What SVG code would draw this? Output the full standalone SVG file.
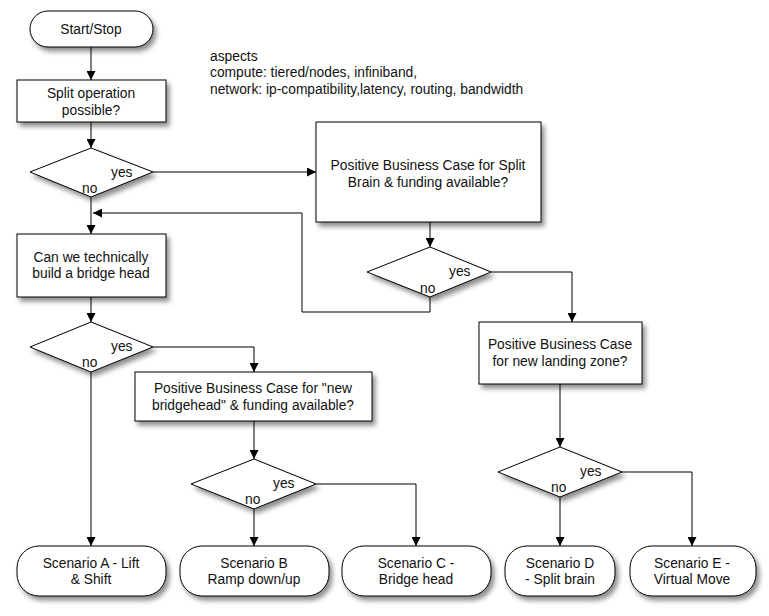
<svg xmlns="http://www.w3.org/2000/svg" width="769" height="616" viewBox="0 0 769 616">
<defs>
<filter id="sh" x="-20%" y="-20%" width="150%" height="160%">
<feDropShadow dx="3" dy="4" stdDeviation="2.5" flood-color="#000" flood-opacity="0.45"/>
</filter>
<marker id="ah" viewBox="0 0 10 10" refX="10" refY="5" markerWidth="9" markerHeight="9" markerUnits="userSpaceOnUse" orient="auto">
<path d="M0,0 L10,5 L0,10 z" fill="#000"/>
</marker>
</defs>
<style>
.n{fill:#fff;stroke:#000;stroke-width:1;filter:url(#sh)}
.t{font-family:"Liberation Sans",Arial,sans-serif;font-size:13.8px;fill:#111;text-anchor:middle}
.l{font-family:"Liberation Sans",Arial,sans-serif;font-size:13.8px;fill:#111}
.c{fill:none;stroke:#000;stroke-width:1}
.a{marker-end:url(#ah)}
</style>
<rect width="769" height="616" fill="#fff"/>
<g id="connectors">
<line class="c a" x1="91" y1="47" x2="91" y2="80"/>
<line class="c a" x1="91" y1="122" x2="91" y2="148"/>
<line class="c a" x1="153" y1="172" x2="316" y2="172"/>
<line class="c a" x1="91" y1="197" x2="91" y2="234"/>
<line class="c a" x1="430" y1="222" x2="430" y2="247"/>
<polyline class="c a" points="491,272 572,272 572,322"/>
<polyline class="c a" points="430,297 430,312 302,312 302,213 93,213"/>
<line class="c a" x1="91" y1="297" x2="91" y2="322"/>
<polyline class="c a" points="153,347 254,347 254,372"/>
<line class="c a" x1="91" y1="372" x2="91" y2="546"/>
<line class="c a" x1="254" y1="421" x2="254" y2="459"/>
<polyline class="c a" points="316,484 416,484 416,546"/>
<line class="c a" x1="254" y1="509" x2="254" y2="546"/>
<line class="c a" x1="560" y1="384" x2="560" y2="447"/>
<polyline class="c a" points="622,472 692,472 692,546"/>
<line class="c a" x1="560" y1="497" x2="560" y2="546"/>
</g>
<g id="start">
<rect class="n" x="30" y="11" width="123" height="36" rx="18"/>
<text class="t" x="91" y="34">Start/Stop</text>
</g>
<g id="aspects">
<text class="l" x="210" y="61">aspects</text>
<text class="l" x="210" y="77">compute: tiered/nodes, infiniband,</text>
<text class="l" x="210" y="94">network: ip-compatibility,latency, routing, bandwidth</text>
</g>
<g id="split">
<rect class="n" x="17" y="80" width="149" height="42"/>
<text class="t" x="91" y="98">Split operation</text>
<text class="t" x="91" y="115">possible?</text>
</g>
<g id="d1">
<polygon class="n" points="30,172 91,148 153,172 91,197"/>
<text class="l" x="111" y="177">yes</text>
<text class="l" x="82" y="193">no</text>
</g>
<g id="splitbrain">
<rect class="n" x="316" y="122" width="225" height="100"/>
<text class="t" x="428" y="170">Positive Business Case for Split</text>
<text class="t" x="428" y="187">Brain &amp; funding available?</text>
</g>
<g id="d2">
<polygon class="n" points="367,272 430,247 491,272 430,297"/>
<text class="l" x="449" y="276">yes</text>
<text class="l" x="420" y="293">no</text>
</g>
<g id="bridge">
<rect class="n" x="17" y="234" width="149" height="63"/>
<text class="t" x="91" y="262">Can we technically</text>
<text class="t" x="91" y="278">build a bridge head</text>
</g>
<g id="d3">
<polygon class="n" points="30,347 91,322 153,347 91,372"/>
<text class="l" x="111" y="351">yes</text>
<text class="l" x="82" y="367">no</text>
</g>
<g id="newbridge">
<rect class="n" x="135" y="372" width="237" height="49"/>
<text class="t" x="253" y="393">Positive Business Case for "new</text>
<text class="t" x="253" y="410">bridgehead" &amp; funding available?</text>
</g>
<g id="d4">
<polygon class="n" points="191,484 254,459 316,484 254,509"/>
<text class="l" x="273" y="488">yes</text>
<text class="l" x="245" y="504">no</text>
</g>
<g id="landing">
<rect class="n" x="479" y="322" width="163" height="62"/>
<text class="t" x="560" y="349">Positive Business Case</text>
<text class="t" x="560" y="366">for new landing zone?</text>
</g>
<g id="d5">
<polygon class="n" points="498,472 560,447 622,472 560,497"/>
<text class="l" x="580" y="476">yes</text>
<text class="l" x="551" y="492">no</text>
</g>
<g id="sa">
<rect class="n" x="17" y="546" width="149" height="50" rx="22"/>
<text class="t" x="91" y="568">Scenario A - Lift</text>
<text class="t" x="91" y="584">&amp; Shift</text>
</g>
<g id="sb">
<rect class="n" x="180" y="546" width="149" height="50" rx="22"/>
<text class="t" x="254" y="568">Scenario B</text>
<text class="t" x="254" y="584">Ramp down/up</text>
</g>
<g id="sc">
<rect class="n" x="342" y="546" width="149" height="50" rx="22"/>
<text class="t" x="416" y="568">Scenario C -</text>
<text class="t" x="416" y="584">Bridge head</text>
</g>
<g id="sd">
<rect class="n" x="505" y="546" width="110" height="50" rx="22"/>
<text class="t" x="560" y="568">Scenario D</text>
<text class="t" x="560" y="584">- Split brain</text>
</g>
<g id="se">
<rect class="n" x="630" y="546" width="126" height="50" rx="22"/>
<text class="t" x="692" y="568">Scenario E -</text>
<text class="t" x="692" y="584">Virtual Move</text>
</g>
</svg>
